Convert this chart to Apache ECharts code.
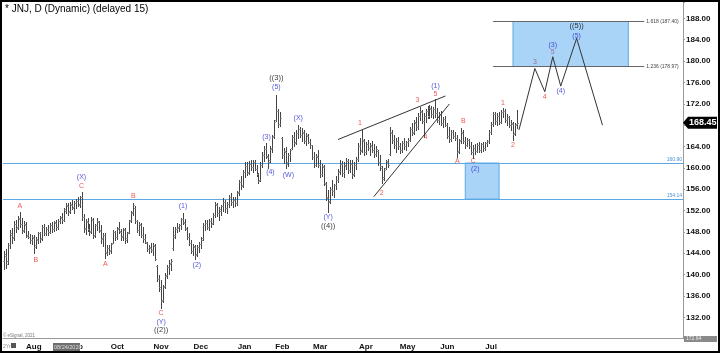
<!DOCTYPE html>
<html><head><meta charset="utf-8">
<script src="https://cdn.jsdelivr.net/npm/echarts@6/dist/echarts.min.js"></script>
<style>html,body{margin:0;padding:0;background:#fff}#c{width:720px;height:354px}</style>
</head><body><div id="c"></div>
<script>
// ---------- DATA ----------
const title = '* JNJ, D (Dynamic) (delayed 15)';
const startDate = '2020-07-13';
const holidays = ['2020-09-07','2020-11-26','2020-12-25','2021-01-01','2021-01-18','2021-02-15','2021-04-02','2021-05-31','2021-07-05','2021-09-06'];
const totalSlots = 342;
const monthNames = ['Jan','Feb','Mar','Apr','May','Jun','Jul','Aug','Sep','Oct','Nov','Dec'];

const opens = [
142.5,143.5,142.5,145.5,147.5,147.0,149.5,149.0,150.5,149.5,
148.3,149.2,147.5,147.0,146.5,146.8,145.5,146.5,147.8,146.8,
149.0,147.8,148.5,148.0,149.2,148.6,149.6,149.0,150.0,150.6,
150.3,152.0,152.8,152.0,153.0,152.6,153.4,153.8,153.2,154.5,
150.8,148.8,149.8,148.5,148.2,150.2,147.4,149.2,149.8,148.2,
146.8,147.5,144.0,145.0,144.6,146.0,148.0,147.0,148.8,148.0,
147.2,148.4,146.8,148.0,150.2,151.8,152.4,150.0,148.4,149.2,
147.4,146.6,146.0,144.8,145.0,144.6,145.4,141.6,139.2,137.4,
135.2,137.8,140.0,141.5,142.2,145.0,147.4,148.6,149.0,149.2,
150.5,149.6,148.6,147.0,146.0,144.4,145.2,143.8,145.2,145.8,
146.8,149.2,149.6,149.0,150.0,149.6,151.2,153.0,151.6,152.0,
152.8,153.6,152.4,153.2,154.6,153.6,154.0,153.4,155.4,157.4,
156.8,159.2,160.4,159.2,160.8,160.2,161.0,159.8,158.8,157.8,
160.6,162.4,163.6,162.0,161.4,163.8,166.0,169.0,170.6,168.2,
165.6,162.4,163.0,161.0,162.4,163.8,165.8,164.8,166.6,167.2,
166.2,166.6,165.0,166.0,164.8,164.2,162.0,160.6,162.0,160.6,
158.8,160.2,157.0,154.4,153.8,156.0,155.6,156.8,157.8,159.4,
160.8,159.0,160.4,161.2,159.6,160.8,158.8,160.6,161.6,164.0,
163.4,165.0,163.0,164.4,163.8,164.0,163.4,162.6,163.2,161.0,
160.0,158.2,160.0,161.0,162.6,166.6,165.2,164.2,165.0,164.0,
163.4,164.6,164.0,164.8,165.2,167.2,166.8,168.4,167.6,169.8,
170.4,168.8,169.8,170.6,169.8,171.0,170.0,171.0,170.2,169.0,
170.0,168.4,169.2,168.0,166.0,165.4,166.8,166.0,165.6,163.2,
165.2,166.6,165.0,164.2,165.2,164.0,163.0,163.8,163.2,164.2,
163.4,164.4,163.8,164.6,165.0,166.8,168.2,170.0,168.8,169.8,
168.6,170.4,170.6,169.0,169.6,168.0,168.2,166.6,168.2];
const highs = [
144.5,144.8,146.0,148.4,148.8,150.0,150.2,151.0,151.7,150.6,
150.0,149.8,148.2,147.6,147.4,147.4,147.0,148.0,148.0,149.3,
149.4,149.0,149.2,149.6,149.9,150.0,150.2,150.4,151.0,151.5,
152.5,153.4,153.4,153.6,154.0,153.8,154.2,154.6,154.8,155.5,
151.4,150.4,150.6,149.4,150.8,150.6,149.5,150.6,150.0,149.3,
147.8,147.8,145.5,145.5,146.0,148.4,148.2,149.0,149.9,148.6,
148.8,148.8,148.0,150.2,152.0,153.4,152.8,150.2,149.9,149.6,
149.0,147.6,146.2,145.6,145.9,146.0,145.8,141.8,140.0,139.0,
138.0,140.3,141.8,142.7,143.0,149.0,149.0,149.7,149.5,150.6,
151.5,150.4,149.0,147.8,146.4,145.8,145.6,145.5,146.2,147.0,
149.7,150.2,150.2,150.4,150.6,151.6,153.6,153.4,152.6,153.0,
154.4,154.0,153.6,155.0,155.3,154.6,154.6,155.6,157.8,158.4,
159.6,161.0,161.1,161.2,161.5,161.4,161.4,160.6,159.0,161.0,
163.0,164.0,164.7,162.6,164.0,166.2,169.0,173.6,171.0,170.4,
165.8,163.8,163.9,162.8,163.6,166.2,166.8,167.0,168.0,167.6,
167.4,167.1,166.6,166.4,165.4,164.3,163.0,162.6,163.3,161.4,
160.8,160.6,157.4,155.8,156.4,157.8,157.0,158.4,159.8,161.5,
161.2,161.0,161.9,161.6,161.4,161.4,161.0,162.0,164.6,165.6,
167.1,165.4,164.8,165.2,164.6,165.0,164.4,164.0,163.4,162.4,
160.4,160.0,161.5,161.6,167.7,167.0,166.2,165.6,165.8,164.6,
165.0,165.6,165.0,165.6,167.6,168.4,169.0,169.5,170.2,171.4,
170.8,170.3,171.0,171.6,171.8,171.6,171.4,172.9,171.2,170.4,
170.6,169.6,169.8,168.4,167.6,167.1,167.0,166.8,166.2,165.4,
167.4,167.0,165.8,165.6,165.4,164.8,164.2,164.4,164.6,164.8,
164.6,164.8,164.8,165.2,167.1,168.6,170.5,170.4,170.2,170.4,
170.8,171.2,171.0,170.0,169.8,169.0,168.6,168.4,170.8];
const lows = [
141.0,141.2,142.0,145.0,146.0,146.5,148.0,148.5,149.0,147.8,
147.9,147.0,146.8,146.0,145.8,144.0,145.0,146.0,146.2,146.5,
147.4,147.5,147.4,147.8,148.0,148.2,148.4,148.6,149.7,149.7,
150.0,151.5,151.2,151.6,152.2,151.5,152.4,152.8,152.6,150.2,
148.0,147.6,148.2,147.4,147.8,146.8,147.0,148.4,148.0,146.0,
145.4,143.1,143.6,143.8,144.0,146.0,146.4,146.6,147.8,146.5,
146.4,146.0,146.2,147.8,149.8,151.2,149.7,148.0,147.4,147.0,
146.2,145.9,144.4,144.0,144.2,143.6,142.7,138.8,137.0,133.7,
134.8,137.5,139.3,140.2,140.8,144.6,146.8,148.0,148.2,148.6,
149.4,148.4,146.6,145.6,144.0,143.6,143.0,143.4,144.2,145.0,
146.4,148.4,148.6,148.4,149.0,149.4,150.8,151.0,150.2,151.2,
152.0,151.8,151.6,152.6,153.0,152.7,152.8,153.0,155.0,156.0,
156.4,158.2,158.6,158.8,159.6,159.2,159.6,158.4,157.2,157.6,
160.2,161.2,161.8,160.0,161.0,163.0,165.6,168.8,167.6,167.8,
161.8,160.9,160.0,160.4,161.2,163.6,164.0,164.4,165.6,165.8,
165.0,164.6,164.3,164.6,163.8,161.6,160.1,160.4,160.2,158.3,
158.4,156.8,154.0,151.7,153.4,155.0,154.6,156.0,157.4,158.8,
158.4,158.2,159.8,159.0,159.2,158.1,158.4,159.8,161.2,162.6,
163.0,162.4,162.6,163.4,162.4,163.0,162.0,162.2,160.6,159.6,
157.2,157.8,159.8,160.2,162.4,164.6,163.8,163.0,163.6,162.8,
163.0,163.6,163.3,164.0,165.0,166.2,166.4,167.0,167.2,169.0,
168.4,165.8,168.6,169.4,169.3,169.6,169.4,169.5,168.6,168.2,
168.0,167.6,167.8,165.6,164.8,165.0,165.6,165.2,162.0,162.8,
164.6,164.6,163.7,164.0,163.7,162.6,161.9,162.6,163.0,163.0,
163.0,163.2,163.4,164.0,164.6,166.4,167.8,168.2,168.0,168.2,
168.4,169.6,168.6,168.0,167.6,167.1,165.2,166.2,167.4];
const closes = [
143.8,142.0,145.5,147.8,146.8,149.5,148.8,150.6,149.4,148.2,
149.5,147.3,147.0,146.5,147.0,145.2,146.6,147.8,146.6,149.0,
147.8,148.6,148.0,149.2,148.5,149.8,148.9,150.1,150.8,150.2,
152.2,153.0,151.8,153.2,152.5,153.5,153.8,153.0,154.5,150.8,
148.6,150.0,148.6,148.0,150.4,147.2,149.2,150.0,148.4,146.6,
147.5,144.2,145.0,144.4,145.8,148.0,147.0,148.6,148.2,147.0,
148.5,146.5,147.8,150.0,151.6,153.0,150.0,148.4,149.4,147.5,
146.6,146.2,144.8,145.2,144.6,145.6,143.0,139.2,137.6,135.0,
137.6,139.8,141.5,142.0,142.6,147.0,148.6,148.8,149.2,150.4,
149.8,148.8,147.0,146.0,144.4,145.4,143.6,145.2,145.8,146.5,
149.2,149.6,149.0,150.0,149.4,151.2,153.2,151.6,152.2,152.8,
153.6,152.4,153.2,154.6,153.6,154.0,153.4,155.2,157.4,156.6,
159.2,160.4,159.0,160.8,160.2,161.0,159.8,158.8,157.6,160.6,
162.4,163.6,162.2,161.0,163.6,165.8,168.6,170.6,168.2,169.4,
162.4,163.2,160.8,162.4,163.4,165.8,164.6,166.6,167.2,166.2,
166.8,165.0,166.2,164.8,164.2,162.0,160.6,162.2,160.6,158.8,
160.4,157.2,154.6,153.6,156.0,155.6,156.8,157.8,159.2,160.8,
159.0,160.6,161.2,159.6,160.8,158.6,160.6,161.6,164.0,163.2,
165.2,163.0,164.4,163.8,164.2,163.4,162.6,163.6,161.0,160.4,
158.0,159.6,161.2,160.6,166.8,165.2,164.2,165.0,164.0,163.4,
164.6,164.0,164.8,165.2,167.2,166.6,168.6,167.6,169.8,170.6,
168.8,169.8,170.6,169.8,171.2,170.0,171.0,170.2,169.0,170.0,
168.4,169.2,168.0,166.0,165.4,166.8,166.0,165.6,163.0,165.0,
166.8,165.0,164.2,165.2,164.0,163.0,163.8,163.2,164.2,163.4,
164.4,163.8,164.6,165.0,166.8,168.2,170.0,168.8,169.8,168.6,
170.4,170.6,169.0,169.6,168.0,168.4,166.4,168.0,168.45];

// projected path (category index, price)
const projIdx = [259, 267, 272, 276, 280, 288, 301];
const projVal = [167.1, 178.6, 174.25, 180.8, 175.3, 184.25, 168.0];
// wedge trendlines
const wedgeUpper = [[168, 165.3], [222, 173.45]];
const wedgeLower = [[186, 154.6], [224, 171.95]];
// fibonacci target zone
const fibLevels = [{ ratio: '1.618', value: 187.40 }, { ratio: '1.236', value: 178.97 }];
const fibZoneIdx = [256, 314];
const fibLineIdx = [246, 322];
// support zone
const supportLevels = [160.90, 154.14];
const supportZoneIdx = [232, 249];
// wave labels [index, price, text]
const redLabels = [[8,152.9,'A'],[16,142.8,'B'],[39,156.6,'C'],[51,142.0,'A'],[65,154.7,'B'],[79,132.8,'C'],
  [179,168.3,'1'],[190,155.2,'2'],[208,172.7,'3'],[212,165.7,'4'],[217,173.8,'5'],
  [228,161.3,'A'],[231,168.8,'B'],[236,161.3,'C'],[251,172.1,'1'],[256,164.3,'2'],[272,173.2,'4']];
const purpleLabels = [[267,179.9,'3'],[276,181.6,'5']];
const blueLabels = [[39,158.3,'(X)'],[79,131.2,'(Y)'],[90,152.9,'(1)'],[97,141.8,'(2)'],[132,165.8,'(3)'],[134,159.2,'(4)'],
  [137,175.2,'(5)'],[143,158.7,'(W)'],[148,169.3,'(X)'],[163,150.8,'(Y)'],[217,175.3,'(1)'],[237,159.8,'(2)'],
  [276,182.9,'(3)'],[280,174.4,'(4)'],[288,184.7,'(5)']];
const blackLabels = [[79,129.6,'((2))'],[137,176.9,'((3))'],[163,149.1,'((4))'],[288,186.5,'((5))']];
const yTicks = { min: 128, max: 191, step: 4, first: 132, last: 188 };
const lastPrice = closes[closes.length - 1];
const cursorDate = '08/24/2020';
const bottomPrice = '172.64';

// ---------- BUILD ----------
function buildDates() {
  const out = [];
  const p = startDate.split('-').map(Number);
  const d = new Date(Date.UTC(p[0], p[1] - 1, p[2]));
  while (out.length < totalSlots) {
    const wd = d.getUTCDay();
    const s = d.toISOString().slice(0, 10);
    if (wd !== 0 && wd !== 6 && holidays.indexOf(s) < 0) out.push(s);
    d.setUTCDate(d.getUTCDate() + 1);
  }
  return out;
}
const dates = buildDates();
const ohlc = opens.map((o, i) => [i, o, highs[i], lows[i], closes[i]]);

const BLUE_FILL = '#a9d4f8', BLUE_LINE = '#5aa8e6';
const FONT = '"Liberation Sans", Arial, sans-serif';

function labelSeries(arr, color, size, weight) {
  return {
    type: 'scatter', symbolSize: 1, itemStyle: { color: 'rgba(0,0,0,0)' }, z: 10, silent: true,
    data: arr.map(a => [a[0], a[1], a[2]]),
    label: { show: true, position: 'inside', formatter: p => p.data[2], color: color,
      fontSize: size, fontFamily: FONT, fontWeight: weight || 'normal' }
  };
}

const chart = echarts.init(document.getElementById('c'), null, { renderer: 'canvas' });
const option = {
  animation: false,
  backgroundColor: '#fff',
  grid: { left: 3, right: 37, top: 2.3, bottom: 15.3 },
  xAxis: {
    type: 'category', data: dates, boundaryGap: true,
    axisLine: { show: true, lineStyle: { color: '#999', width: 1 } },
    axisTick: { show: false },
    splitLine: { show: false },
    axisLabel: {
      interval: (i, v) => i > 0 && i < closes.length && v.slice(0, 7) !== dates[i - 1].slice(0, 7),
      formatter: v => monthNames[+v.slice(5, 7) - 1],
      fontSize: 8, fontWeight: 'bold', color: '#111', fontFamily: FONT, margin: 4
    }
  },
  yAxis: {
    type: 'value', position: 'right', min: yTicks.min, max: yTicks.max, interval: yTicks.step, scale: true,
    axisLine: { show: true, lineStyle: { color: '#999' } },
    axisTick: { show: true, length: 2, lineStyle: { color: '#999' } },
    splitLine: { show: false },
    axisLabel: {
      formatter: v => (v >= yTicks.first && v <= yTicks.last && (v - yTicks.min) % yTicks.step === 0) ? v.toFixed(2) : '',
      fontSize: 8, fontWeight: 'bold', color: '#111', fontFamily: FONT, margin: 3, align: 'left'
    }
  },
  series: [
    {
      type: 'line', data: [], silent: true, z: 1,
      markLine: {
        silent: true, symbol: 'none',
        lineStyle: { color: BLUE_LINE, width: 1, type: 'solid' },
        label: { show: true, position: 'insideEndTop', formatter: p => p.value.toFixed(2),
          fontSize: 5, color: '#4a90d9', fontFamily: FONT, distance: 1 },
        data: supportLevels.map(v => ({ yAxis: v }))
      },
      markArea: {
        silent: true,
        itemStyle: { color: BLUE_FILL, borderColor: BLUE_LINE, borderWidth: 1 },
        data: [
          [{ coord: [supportZoneIdx[0], supportLevels[0]] }, { coord: [supportZoneIdx[1], supportLevels[1]] }],
          [{ coord: [fibZoneIdx[0], fibLevels[0].value] }, { coord: [fibZoneIdx[1], fibLevels[1].value] }]
        ]
      }
    },
    {
      type: 'line', data: [], silent: true, z: 2,
      markLine: {
        silent: true, symbol: 'none',
        lineStyle: { color: '#666', width: 1, type: 'solid' },
        label: { show: true, position: 'end', distance: 2, fontSize: 5, color: '#444', fontFamily: FONT,
          formatter: p => p.data.name },
        data: fibLevels.map(f => [
          { coord: [fibLineIdx[0], f.value], name: f.ratio + ' (' + f.value.toFixed(2) + ')' },
          { coord: [fibLineIdx[1], f.value] }
        ])
      }
    },
    {
      type: 'custom', z: 5, silent: true,
      data: ohlc,
      encode: { x: 0, y: [1, 2, 3, 4] },
      renderItem: function (params, api) {
        const i = api.value(0);
        const pH = api.coord([i, api.value(2)]);
        const pL = api.coord([i, api.value(3)]);
        const pO = api.coord([i, api.value(1)]);
        const pC = api.coord([i, api.value(4)]);
        const x = Math.round(pH[0]) + 0.5;
        const yo = Math.round(pO[1]) + 0.5, yc = Math.round(pC[1]) + 0.5;
        return {
          type: 'group', children: [
            { type: 'line', shape: { x1: x, y1: Math.round(pH[1]), x2: x, y2: Math.round(pL[1]) + 1 }, style: { stroke: '#444', lineWidth: 1 } },
            { type: 'line', shape: { x1: x - 1.5, y1: yo, x2: x, y2: yo }, style: { stroke: '#999', lineWidth: 1 } },
            { type: 'line', shape: { x1: x, y1: yc, x2: x + 1.5, y2: yc }, style: { stroke: '#999', lineWidth: 1 } }
          ]
        };
      }
    },
    {
      type: 'line', z: 6, silent: true, symbol: 'none',
      lineStyle: { color: '#333', width: 1 },
      data: projIdx.map((x, i) => [x, projVal[i]])
    },
    {
      type: 'line', z: 6, silent: true, symbol: 'none',
      lineStyle: { color: '#333', width: 1 }, data: wedgeUpper
    },
    {
      type: 'line', z: 6, silent: true, symbol: 'none',
      lineStyle: { color: '#333', width: 1 }, data: wedgeLower
    },
    labelSeries(redLabels, '#e8302a', 7),
    labelSeries(purpleLabels, '#a0507a', 7),
    labelSeries(blueLabels, '#2a2cd0', 7),
    labelSeries(blackLabels, '#000', 7.5)
  ]
};
chart.setOption(option);

// overlays anchored to data / frame
const yLast = chart.convertToPixel({ yAxisIndex: 0 }, lastPrice);
const axisX = 683;
chart.setOption({
  graphic: [
    { type: 'text', left: 5, top: 4, style: { text: title, fontSize: 10, fill: '#000', fontFamily: FONT } },
    { type: 'polygon', shape: { points: [[axisX, yLast], [axisX + 5, yLast - 6], [717, yLast - 6], [717, yLast + 6], [axisX + 5, yLast + 6]] },
      style: { fill: '#000' }, z: 20 },
    { type: 'text', x: axisX + 6, y: yLast - 5, style: { text: lastPrice.toFixed(2), fontSize: 9, fontWeight: 'bold', fill: '#fff', fontFamily: FONT }, z: 21 },
    { type: 'rect', shape: { x: 684, y: 336, width: 33, height: 6 }, style: { fill: '#8a8a8a' }, z: 20 },
    { type: 'text', x: 686, y: 336, style: { text: bottomPrice, fontSize: 5, fill: '#eee', fontFamily: FONT }, z: 21 },
    { type: 'rect', shape: { x: 53, y: 343, width: 27, height: 8 }, style: { fill: '#6e6e6e' }, z: 20 },
    { type: 'text', x: 54, y: 344.5, style: { text: cursorDate, fontSize: 5.5, fill: '#ddd', fontFamily: FONT }, z: 21 },
    { type: 'text', x: 3, y: 333, style: { text: '\u00a9 eSignal, 2021', fontSize: 4.5, fill: '#777', fontFamily: FONT }, z: 21 },
    { type: 'text', x: 3, y: 344, style: { text: '2Yr', fontSize: 5, fill: '#888', fontFamily: FONT }, z: 21 },
    { type: 'rect', shape: { x: 11, y: 343, width: 5, height: 5 }, style: { fill: '#555' }, z: 21 },
    { type: 'rect', shape: { x: 1, y: 1, width: 718, height: 351 }, style: { fill: 'none', stroke: '#000', lineWidth: 2 }, z: 30 }
  ]
});
</script></body></html>
